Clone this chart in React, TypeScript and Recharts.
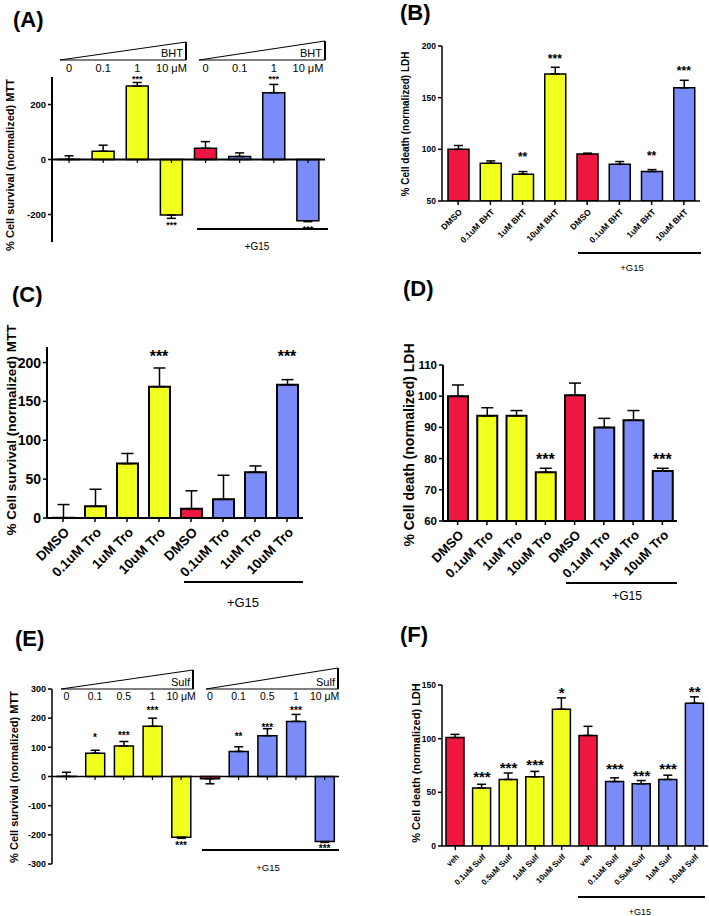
import React from 'react';
import { ComposedChart, Bar, Cell, XAxis, YAxis, ErrorBar, ReferenceLine, ReferenceDot } from 'recharts';

const FONT = '"Liberation Sans", Arial, Helvetica, sans-serif';
const COLORS: Record<string, string> = { veh: '#EE1742', drug: '#F0FF1E', g15: '#7B8BF7' };

const groups8 = ['veh', 'drug', 'drug', 'drug', 'veh', 'g15', 'g15', 'g15'];
const groups10 = ['veh', 'drug', 'drug', 'drug', 'drug', 'veh', 'g15', 'g15', 'g15', 'g15'];

// (A) BHT - MTT
const aConc = ['0', '0.1', '1', '10 μM', '0', '0.1', '1', '10 μM'];
const aValues = [0.5, 30, 267, -202, 41, 11, 243, -223];
const aErrors = [13, 22, 13, 12, 24, 13, 30, 3];
const aStars = ['', '', '***', '***', '', '', '***', '***'];
const aStarY = [0, 0, 297, -232, 0, 0, 297, -247];

// (B) BHT - LDH
const bLabels = ['DMSO', '0.1uM BHT', '1uM BHT', '10uM BHT', 'DMSO', '0.1uM BHT', '1uM BHT', '10uM BHT'];
const bValues = [100, 86.5, 76, 173, 95.6, 85.5, 78.5, 159.5];
const bErrors = [3.7, 2.3, 2.5, 6.4, 0.7, 2.7, 1.9, 7.3];
const bStars = ['', '', '**', '***', '', '', '**', '***'];
const bStarY = [0, 0, 94, 189, 0, 0, 95.5, 177];

// (C) Tro - MTT
const cLabels = ['DMSO', '0.1uM Tro', '1uM Tro', '10uM Tro', 'DMSO', '0.1uM Tro', '1uM Tro', '10uM Tro'];
const cValues = [0.3, 15, 70, 169, 12, 24, 59, 171.5];
const cErrors = [17, 22, 13, 24, 23, 31, 8, 6.5];
const cStars = ['', '', '', '***', '', '', '', '***'];
const cStarY = [0, 0, 0, 211, 0, 0, 0, 211];

// (D) Tro - LDH
const dLabels = cLabels;
const dValues = [100, 93.7, 93.7, 75.6, 100.3, 90, 92.3, 76];
const dErrors = [3.6, 2.6, 1.7, 1.3, 3.9, 2.9, 3.1, 0.9];
const dStars = ['', '', '', '***', '', '', '', '***'];
const dStarY = [0, 0, 0, 80.2, 0, 0, 0, 80.2];

// (E) Sulf - MTT
const eConc = ['0', '0.1', '0.5', '1', '10 μM', '0', '0.1', '0.5', '1', '10 μM'];
const eValues = [0.5, 80, 105, 172, -208, -8, 86, 140, 189, -223];
const eErrors = [14, 10, 15, 28, 4, 17, 16, 24, 24, 3];
const eStars = ['', '*', '***', '***', '***', '', '**', '***', '***', '***'];
const eStarY = [0, 137, 146, 229, -232, 0, 141, 172, 229, -242];

// (F) Sulf - LDH
const fLabels = ['veh', '0.1uM Sulf', '0.5uM Sulf', '1uM Sulf', '10uM Sulf', 'veh', '0.1uM Sulf', '0.5uM Sulf', '1uM Sulf', '10uM Sulf'];
const fValues = [101, 54, 62, 64.5, 127.5, 103, 60, 58, 62, 133];
const fErrors = [3, 3.5, 6, 5, 10.5, 8.5, 3.5, 3, 4, 6];
const fStars = ['', '***', '***', '***', '*', '', '***', '***', '***', '**'];
const fStarY = [0, 66, 74.5, 77, 144, 0, 73.6, 67, 73.6, 145];

type Row = { key: string; label: string; conc: string; value: number; err: number[]; color: string; stars: string; starY: number };

function makeRows(id: string, labels: string[] | null, conc: string[] | null, groups: string[], values: number[], errors: number[], stars: string[], starY: number[]): Row[] {
  return values.map((v, i) => ({
    key: id + i,
    label: labels ? labels[i] : '',
    conc: conc ? conc[i] : '',
    value: v,
    err: v < 0 ? [errors[i], 0] : [0, errors[i]],
    color: COLORS[groups[i]],
    stars: stars[i],
    starY: starY[i],
  }));
}

function RotTick(props: any) {
  const { x, y, payload, fs, rows } = props;
  const row = rows.find((r: Row) => r.key === payload.value);
  return (
    <text x={x} y={y} dy={fs * 0.75} textAnchor="end" transform={`rotate(-45 ${x} ${y})`}
      fontSize={fs} fontWeight="bold" fontFamily={FONT} fill="#000">
      {row ? row.label : ''}
    </text>
  );
}

function Panel(p: any) {
  const { box, plot, rows, domain, ticks } = p;
  const concH = p.conc && !p.conc.mirror ? p.conc.height : 0;
  const xH = p.zero ? 1 : p.xAxisHeight;
  const margin = {
    top: plot.y0 - box.top - concH,
    left: 0,
    right: box.left + box.width - plot.x1,
    bottom: box.top + box.height - plot.y1 - xH,
  };
  // y of the value 0 inside this chart's own svg, for the small ticks under the zero line
  const zeroY = plot.y0 + (domain[1] / (domain[1] - domain[0])) * (plot.y1 - plot.y0) - box.top;
  const labelOf = (v: string) => {
    const r = rows.find((row: Row) => row.key === v);
    return r ? r.conc : '';
  };
  return (
    <div style={{ position: 'absolute', left: box.left, top: box.top }}>
      <ComposedChart width={box.width} height={box.height} data={rows} margin={margin}>
        {p.zero ? (
          <XAxis dataKey="key" height={1} interval={0} axisLine={false} tickLine={false}
            tick={(t: any) => <line x1={t.x} x2={t.x} y1={zeroY} y2={zeroY + 3.5} stroke="#000" strokeWidth={1.2} />} />
        ) : (
          <XAxis dataKey="key" interval={0} height={p.xAxisHeight} tickSize={4} tickMargin={p.xTickMargin}
            axisLine={{ stroke: '#000', strokeWidth: p.axisStroke }} tickLine={{ stroke: '#000', strokeWidth: 1.5 }}
            tick={(t: any) => <RotTick {...t} fs={p.xFont} rows={rows} />} />
        )}
        {p.conc && (
          <XAxis xAxisId="top" orientation="top" dataKey="key" height={p.conc.height} interval={0}
            axisLine={false} tickLine={false} tickSize={0} tickMargin={p.conc.margin} mirror={p.conc.mirror}
            tick={{ fontSize: p.conc.font, fill: '#000', fontFamily: FONT }} tickFormatter={labelOf} />
        )}
        <YAxis type="number" domain={domain} ticks={ticks} interval={0} width={plot.x0 - box.left} allowDataOverflow
          tickSize={4} tickMargin={2}
          axisLine={{ stroke: '#000', strokeWidth: p.axisStroke }} tickLine={{ stroke: '#000', strokeWidth: 1.5 }}
          tick={{ fontSize: p.yFont, fontWeight: 'bold', fill: '#000', fontFamily: FONT }} />
        <Bar dataKey="value" barSize={p.barSize} stroke="#000" strokeWidth={p.barStroke} isAnimationActive={false}>
          {rows.map((r: Row) => <Cell key={r.key} fill={r.color} />)}
          <ErrorBar dataKey="err" width={p.cap} stroke="#000" strokeWidth={1.5} direction="y" isAnimationActive={false} />
        </Bar>
        {p.zero && <ReferenceLine y={0} stroke="#000" strokeWidth={p.axisStroke} />}
        {rows.filter((r: Row) => r.stars).map((r: Row) => (
          <ReferenceDot key={'s' + r.key} x={r.key} y={r.starY} r={0} ifOverflow="visible"
            shape={(d: any) => (
              <text x={d.cx} y={d.cy + p.starFont * 0.47} textAnchor="middle" fontSize={p.starFont}
                fontWeight="bold" fontFamily={FONT} fill="#000">{r.stars}</text>
            )} />
        ))}
      </ComposedChart>
    </div>
  );
}

const letters = [
  { text: '(A)', x: 13, y: 27 }, { text: '(B)', x: 400, y: 20 },
  { text: '(C)', x: 12, y: 302 }, { text: '(D)', x: 403, y: 296 },
  { text: '(E)', x: 15, y: 646 }, { text: '(F)', x: 400, y: 642 },
];
const titles = [
  { text: '% Cell survival (normalized) MTT', x: 10, y: 165, fs: 11 },
  { text: '% Cell death (normalized) LDH', x: 405, y: 124, fs: 10 },
  { text: '% Cell survival (normalized) MTT', x: 11, y: 430, fs: 13.5 },
  { text: '% Cell death (normalized) LDH', x: 409, y: 445, fs: 14 },
  { text: '% Cell survival (normalized) MTT', x: 14, y: 777, fs: 11 },
  { text: '% Cell death (normalized) LDH', x: 416, y: 763, fs: 11 },
];
const wedges = [
  { x0: 60, x1: 186, yb: 60, yt: 42, label: 'BHT', fs: 11 },
  { x0: 199, x1: 325, yb: 60, yt: 41, label: 'BHT', fs: 11 },
  { x0: 61, x1: 193, yb: 689, yt: 670, label: 'Sulf', fs: 11 },
  { x0: 206, x1: 338, yb: 689, yt: 668, label: 'Sulf', fs: 11 },
];
const brackets = [
  { x0: 197, x1: 328, y: 229, tx: 257, ty: 250, fs: 10 },
  { x0: 578, x1: 701, y: 253, tx: 632, ty: 271, fs: 9.5 },
  { x0: 184, x1: 303, y: 582, tx: 243, ty: 607, fs: 13 },
  { x0: 566, x1: 677, y: 583, tx: 627, ty: 600, fs: 12 },
  { x0: 202, x1: 339, y: 850, tx: 268, ty: 871, fs: 9.5 },
  { x0: 578, x1: 705, y: 897, tx: 640, ty: 915, fs: 9 },
];

function Overlay() {
  return (
    <svg width={709} height={916} style={{ position: 'absolute', left: 0, top: 0, pointerEvents: 'none' }} fontFamily={FONT}>
      {letters.map((l) => (
        <text key={l.text} x={l.x} y={l.y} fontSize={22} fontWeight="bold" fill="#000">{l.text}</text>
      ))}
      {titles.map((t, i) => (
        <text key={i} x={t.x} y={t.y} transform={`rotate(-90 ${t.x} ${t.y})`} textAnchor="middle"
          dominantBaseline="central" fontSize={t.fs} fontWeight="bold" fill="#000">{t.text}</text>
      ))}
      {wedges.map((w, i) => (
        <g key={i}>
          <polygon points={`${w.x0},${w.yb} ${w.x1},${w.yt} ${w.x1},${w.yb}`} fill="#fff" stroke="#000" strokeWidth={1} />
          <line x1={w.x1} y1={w.yt} x2={w.x1} y2={w.yb} stroke="#000" strokeWidth={2} />
          <text x={w.x1 - 3} y={w.yb - 3} textAnchor="end" fontSize={w.fs} fill="#000">{w.label}</text>
        </g>
      ))}
      {brackets.map((b, i) => (
        <g key={i}>
          <line x1={b.x0} y1={b.y} x2={b.x1} y2={b.y} stroke="#000" strokeWidth={2} />
          <text x={b.tx} y={b.ty} textAnchor="middle" fontSize={b.fs} fill="#000">+G15</text>
        </g>
      ))}
    </svg>
  );
}

export default function App() {
  const aRows = makeRows('a', null, aConc, groups8, aValues, aErrors, aStars, aStarY);
  const bRows = makeRows('b', bLabels, null, groups8, bValues, bErrors, bStars, bStarY);
  const cRows = makeRows('c', cLabels, null, groups8, cValues, cErrors, cStars, cStarY);
  const dRows = makeRows('d', dLabels, null, groups8, dValues, dErrors, dStars, dStarY);
  const eRows = makeRows('e', null, eConc, groups10, eValues, eErrors, eStars, eStarY);
  const fRows = makeRows('f', fLabels, null, groups10, fValues, fErrors, fStars, fStarY);
  return (
    <div style={{ position: 'absolute', left: 0, top: 0, width: 709, height: 916, background: '#fff', fontFamily: FONT }}>
      <Panel box={{ left: 0, top: 40, width: 340, height: 212 }} plot={{ x0: 52, x1: 325, y0: 77, y1: 242 }}
        rows={aRows} domain={[-300, 300]} ticks={[-200, 0, 200]} zero
        conc={{ font: 11, height: 20, mirror: false, margin: 5 }}
        yFont={9.5} barSize={22} barStroke={1.5} axisStroke={2} cap={4.5} starFont={9} />
      <Panel box={{ left: 390, top: 30, width: 315, height: 225 }} plot={{ x0: 442, x1: 700, y0: 46, y1: 201 }}
        rows={bRows} domain={[50, 200]} ticks={[50, 100, 150, 200]} xAxisHeight={50} xTickMargin={3}
        yFont={8.5} xFont={8.5} barSize={21} barStroke={1.5} axisStroke={1.5} cap={4.5} starFont={12} />
      <Panel box={{ left: 0, top: 330, width: 320, height: 262 }} plot={{ x0: 47, x1: 303, y0: 347, y1: 518 }}
        rows={cRows} domain={[0, 220]} ticks={[0, 50, 100, 150, 200]} xAxisHeight={70} xTickMargin={4}
        yFont={14} xFont={13.5} barSize={21} barStroke={2} axisStroke={2} cap={6} starFont={16} />
      <Panel box={{ left: 390, top: 345, width: 300, height: 242 }} plot={{ x0: 443, x1: 677, y0: 365, y1: 521 }}
        rows={dRows} domain={[60, 110]} ticks={[60, 70, 80, 90, 100, 110]} xAxisHeight={62} xTickMargin={4}
        yFont={11.5} xFont={13} barSize={20} barStroke={2} axisStroke={2} cap={6} starFont={16} />
      <Panel box={{ left: 0, top: 660, width: 350, height: 215 }} plot={{ x0: 52, x1: 339, y0: 689, y1: 864 }}
        rows={eRows} domain={[-300, 300]} ticks={[-300, -200, -100, 0, 100, 200, 300]} zero
        conc={{ font: 10.5, height: 10, mirror: true, margin: 4 }}
        yFont={9} barSize={19} barStroke={1.5} axisStroke={1.5} cap={4.5} starFont={10} />
      <Panel box={{ left: 390, top: 665, width: 319, height: 240 }} plot={{ x0: 442, x1: 708, y0: 685, y1: 846 }}
        rows={fRows} domain={[0, 150]} ticks={[0, 50, 100, 150]} xAxisHeight={55} xTickMargin={3}
        yFont={8.5} xFont={8} barSize={18} barStroke={1.5} axisStroke={1.5} cap={4.5} starFont={15} />
      <Overlay />
    </div>
  );
}
